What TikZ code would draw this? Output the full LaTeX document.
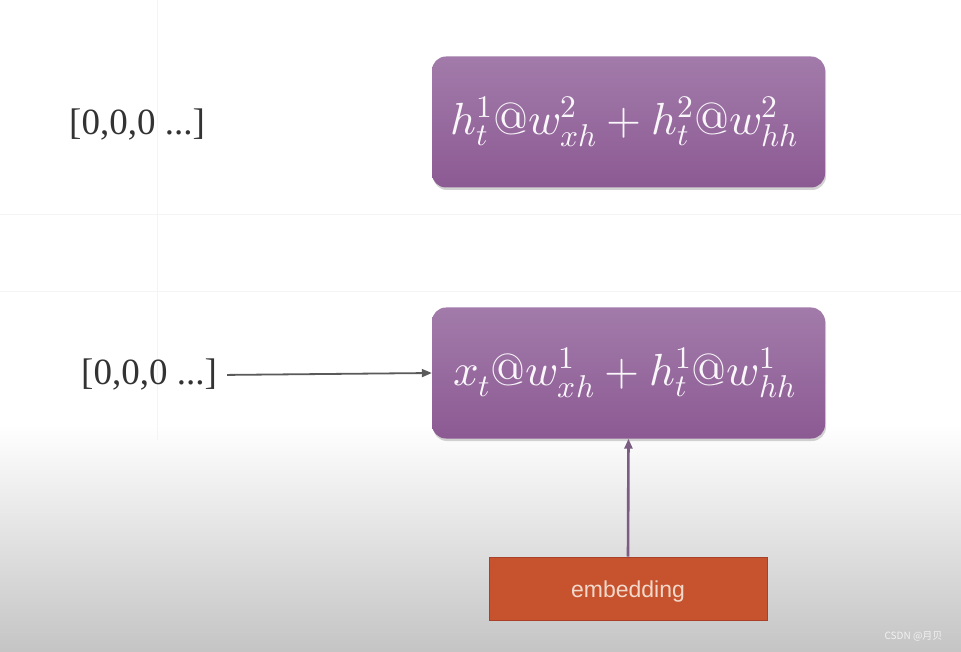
\documentclass[tikz,border=0pt]{standalone}
\usepackage{unicode-math}
\setmainfont{Liberation Serif}
\setmathfont{Latin Modern Math}
\newfontfamily\sansf{Liberation Sans}
\newfontfamily\cjk{Noto Sans CJK SC}
\usetikzlibrary{shadows,arrows.meta}
\definecolor{boxtop}{HTML}{A27BAA}
\definecolor{boxbot}{HTML}{8C5A93}
\definecolor{embfill}{HTML}{C6522E}
\definecolor{embdraw}{HTML}{A8402A}
\definecolor{embtext}{HTML}{F2D9CB}
\definecolor{arrowpur}{HTML}{7B5C82}
\definecolor{arrowgray}{HTML}{5A5A5A}
\definecolor{gridc}{HTML}{F4F4F4}
\tikzset{
  mathbox/.style={rectangle, rounded corners=14pt, minimum width=393pt, minimum height=131pt,
    top color=boxtop, bottom color=boxbot, draw=none, text=white!94!boxtop,
    drop shadow={opacity=0.35, shadow xshift=1pt, shadow yshift=-2.5pt},
    font=\fontsize{45}{50}\selectfont, inner sep=0pt},
  embbox/.style={rectangle, minimum width=278pt, minimum height=63pt, fill=embfill, draw=embdraw,
    line width=1pt, text=embtext, font=\sansf\fontsize{23}{26}\selectfont, inner sep=0pt,
    text height=20pt, text depth=2pt},
  veclabel/.style={font=\fontsize{37}{42}\selectfont, text=black!80, inner sep=2pt},
  conn/.style={-{Triangle[length=10pt,width=8pt]}},
  gridline/.style={draw=gridc, line width=1pt}
}
\begin{document}
\begin{tikzpicture}[x=1pt,y=1pt]
\useasboundingbox (0,0) rectangle (961,-652);
\fill[white] (0,0) rectangle (961,-652);
\shade[top color=white, bottom color=black!23] (0,-425) rectangle (961,-652);
% faint grid of the background
\draw[gridline] (157,0) -- (157,-440);
\draw[gridline] (0,-215) -- (961,-215);
\draw[gridline] (0,-292) -- (961,-292);

\node[mathbox] (top) at (628.5,-122) {$h_t^1@w_{xh}^2 + h_t^2@w_{hh}^2$\hspace*{8pt}};
\node[mathbox] (bot) at (628.5,-373) {$x_t@w_{xh}^1 + h_t^1@w_{hh}^1$\hspace*{8pt}};
\node[embbox] (emb) at (628,-588.5) {embedding};

\node[veclabel, anchor=center] (v1) at (137,-125) {[0,0,0 ...]};
\node[veclabel, anchor=center] (v2) at (149,-375) {[0,0,0 ...]};

\draw[conn, draw=arrowgray, fill=arrowgray, line width=1.8pt, shorten <=8pt] (v2.east) -- (bot.west);
\draw[conn, draw=arrowpur, fill=arrowpur, line width=2.6pt] (emb.north) -- (bot.south);

\node[font=\cjk\fontsize{10}{12}\selectfont, text=white!95!black, anchor=east] (wm) at (946,-636) {CSDN @月贝};
\end{tikzpicture}
\end{document}
